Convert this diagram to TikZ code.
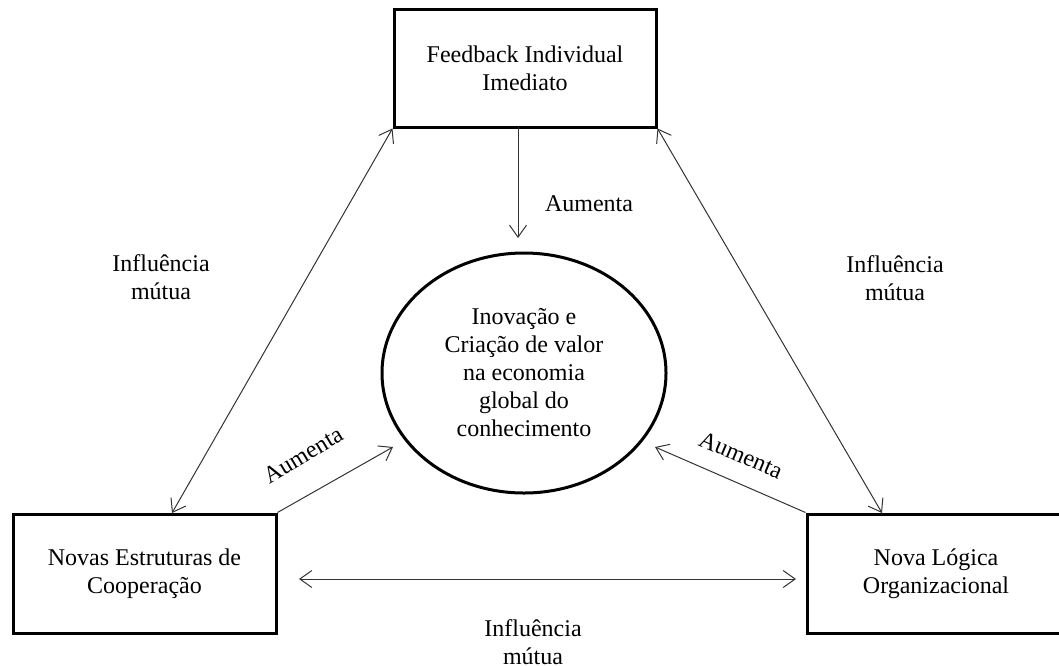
\documentclass[tikz,border=0pt]{standalone}
\usepackage{fontspec}
\setmainfont{Liberation Serif}
\usetikzlibrary{arrows.meta,shapes.geometric,calc}
\begin{document}
\begin{tikzpicture}[x=1pt,y=-1pt,
  every node/.style={font=\fontsize{24}{28}\selectfont, text=black},
  boxnode/.style={draw=black, line width=3pt, rectangle, align=center, inner sep=0pt},
  ovalnode/.style={draw=black, line width=3pt, ellipse, align=center, inner sep=0pt, minimum width=284, minimum height=240},
  lbl/.style={align=center, inner sep=0pt},
  conn/.style={draw=black!80, line width=1pt, -{Straight Barb[length=12pt,width=17pt]}},
  dconn/.style={draw=black!80, line width=1pt, {Straight Barb[length=12pt,width=17pt]}-{Straight Barb[length=12pt,width=17pt]}}
]
\useasboundingbox (0,0) rectangle (1059,665);
\clip (0,0) rectangle (1059,665);

% Nodes
\node[boxnode, minimum width=262, minimum height=118] (fb) at (525,68) {Feedback Individual\\Imediato};
\node[boxnode, minimum width=263, minimum height=119] (nec) at (144.5,573.5) {Novas Estruturas de\\Cooperação};
\node[boxnode, minimum width=259, minimum height=119] (nlo) at (936.5,573.5) {};
\node[lbl] (nlot) at (936,574) {Nova Lógica\\Organizacional};
\node[ovalnode] (inov) at (524,373) {Inovação e\\Criação de valor\\na economia\\global do\\conhecimento};

% Connector end points
\coordinate (fbdown) at (518,127);
\coordinate (inovtop) at (518,238);
\coordinate (necdiag) at (172,513);
\coordinate (nlodiag) at (882,513);
\coordinate (inovleft) at (393,447);
\coordinate (inovright) at (655,447);
\coordinate (necright) at (299,579);
\coordinate (nloleft) at (796,579);

% Connectors
\draw[conn] (fbdown) -- (inovtop);
\draw[dconn] (fb.south west) -- (necdiag);
\draw[dconn] (fb.south east) -- (nlodiag);
\draw[conn] (nec.north east) -- (inovleft);
\draw[conn] (nlo.north west) -- (inovright);
\draw[dconn] (necright) -- (nloleft);

% Labels
\node[lbl] (l1) at (589,204) {Aumenta};
\node[lbl] (l2) at (161,277) {Influência\\mútua};
\node[lbl] (l3) at (895,278) {Influência\\mútua};
\node[lbl] (l4) at (533,642) {Influência\\mútua};
\node[lbl, rotate=31] (l5) at (303,455) {Aumenta};
\node[lbl, rotate=-23] (l6) at (741,455) {Aumenta};
\end{tikzpicture}
\end{document}
